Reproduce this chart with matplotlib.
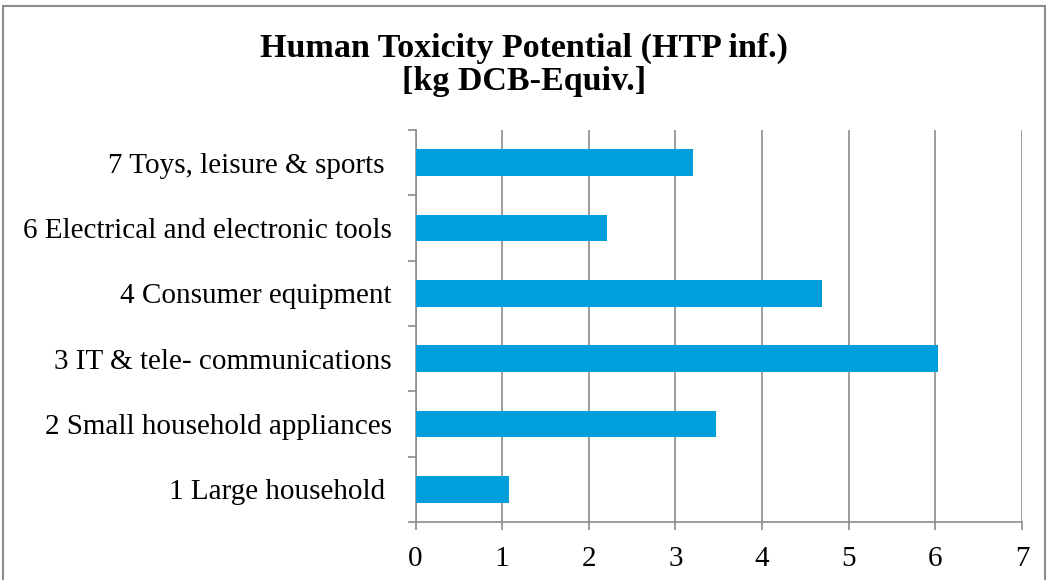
import matplotlib
matplotlib.use("Agg")
import matplotlib.pyplot as plt
from matplotlib.patches import Rectangle

categories = [
    "1 Large household ",
    "2 Small household appliances",
    "3 IT & tele- communications",
    "4 Consumer equipment",
    "6 Electrical and electronic tools",
    "7 Toys, leisure & sports ",
]
values = [1.08, 3.47, 6.03, 4.69, 2.21, 3.20]
xticks = [0, 1, 2, 3, 4, 5, 6, 7]

BAR = "#009EDB"
GRID = "#8C8C8C"

plt.rcParams["font.family"] = ["Liberation Serif", "DejaVu Serif"]

fig = plt.figure(figsize=(10.48, 5.8), dpi=100)
ax = fig.add_axes([415.5 / 1048, 1 - 522 / 580, (1022 - 415.5) / 1048, (522 - 130) / 580])

pos = range(len(categories))
ax.barh(pos, values, height=0.41, color=BAR, zorder=3)
ax.set_ylim(-0.5, len(categories) - 0.5)
ax.set_xlim(0, 7)
ax.set_xticks(xticks)
ax.set_xticklabels([str(t) for t in xticks], fontsize=21)
ax.set_yticks(list(pos))
ax.set_yticklabels(categories, fontsize=21)
ax.set_yticks([p - 0.5 for p in range(len(categories) + 1)], minor=True)

ax.grid(axis="x", color=GRID, linewidth=1.2, zorder=0)
for s in ("top", "right"):
    ax.spines[s].set_visible(False)
for s in ("left", "bottom"):
    ax.spines[s].set_color(GRID)
    ax.spines[s].set_linewidth(1.2)
ax.tick_params(axis="y", which="major", length=0, pad=17)
ax.tick_params(axis="y", which="minor", length=6, color=GRID, width=1.2)
ax.tick_params(axis="x", length=6, color=GRID, width=1.2, pad=11)

fig.text(0.5, 0.888, "Human Toxicity Potential (HTP inf.)\n[kg DCB-Equiv.]",
         ha="center", va="center", fontsize=24.5, fontweight="bold", linespacing=1.05)

fig.patches.append(Rectangle((3 / 1048, -0.05), 1042 / 1048, 1.04, transform=fig.transFigure,
                             fill=False, edgecolor=GRID, linewidth=1.5))

fig.savefig("out.png", dpi=100)
